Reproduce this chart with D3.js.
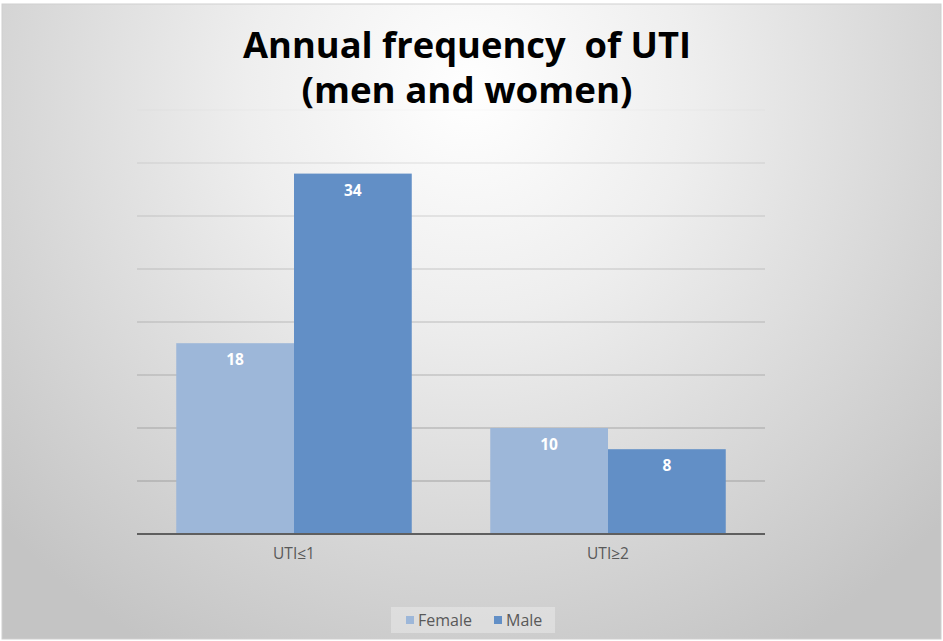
<!DOCTYPE html>
<html>
<head>
<meta charset="utf-8">
<script src="https://cdn.jsdelivr.net/npm/d3@7"></script>
<style>
  body { margin: 0; background: #fff; }
  text { font-family: "Open Sans", "DejaVu Sans", sans-serif; }
</style>
</head>
<body>
<svg width="943" height="641"></svg>
<script>
// ### Data ###
var categories = ['UTI\u22641', 'UTI\u22652'];
var seriesNames = ['Female', 'Male'];
var female = [18, 10];
var male = [34, 8];
var yTicks = [0, 5, 10, 15, 20, 25, 30, 35, 40];
var colors = ['#9db7d9', '#628fc6'];

var rows = categories.map((c, i) => ({cat: c, values: [female[i], male[i]]}));

// ### Canvas ###
var svg = d3.select('svg');
var W = 943, H = 641;
var plot = {left: 137, right: 765, top: 110, bottom: 534};

var defs = svg.append('defs');
var grad = defs.append('radialGradient')
  .attr('id', 'bg')
  .attr('gradientUnits', 'userSpaceOnUse')
  .attr('cx', 470).attr('cy', 90).attr('r', 640);
grad.append('stop').attr('offset', '0%').attr('stop-color', '#ffffff');
grad.append('stop').attr('offset', '35%').attr('stop-color', '#eeeeee');
grad.append('stop').attr('offset', '100%').attr('stop-color', '#c4c4c4');

svg.append('rect').attr('width', W).attr('height', H).attr('fill', '#fff');
svg.append('rect')
  .attr('x', 2).attr('y', 4).attr('width', W - 4).attr('height', H - 6)
  .attr('fill', 'url(#bg)')
  .attr('stroke', '#cfcfcf').attr('stroke-width', 1);

// ### Scales ###
var x0 = d3.scaleBand()
  .domain(categories)
  .range([plot.left, plot.right])
  .paddingInner(0.25)
  .paddingOuter(0.125);
var x1 = d3.scaleBand()
  .domain(seriesNames)
  .range([0, x0.bandwidth()]);
var y = d3.scaleLinear()
  .domain([0, 40])
  .range([plot.bottom, plot.top]);
// gridlines fade out toward the top, the one at 40 is barely there
var gridOpacity = d3.scaleLinear().domain([5, 35, 40]).range([0.6, 0.2, 0.05]);

// ### Gridlines ###
svg.append('g')
  .selectAll('line')
  .data(yTicks.filter(d => d > 0))
  .enter()
  .append('line')
  .attr('x1', plot.left).attr('x2', plot.right)
  .attr('y1', d => y(d)).attr('y2', d => y(d))
  .attr('stroke', '#9a9a9a')
  .attr('stroke-opacity', d => gridOpacity(d))
  .attr('stroke-width', 1.5);

// ### Bars ###
var groups = svg.append('g')
  .selectAll('g')
  .data(rows)
  .enter()
  .append('g')
  .attr('transform', d => `translate(${x0(d.cat)},0)`);

groups.selectAll('rect')
  .data(d => d.values.map((v, i) => ({name: seriesNames[i], value: v, i: i})))
  .enter()
  .append('rect')
  .attr('x', d => x1(d.name))
  .attr('y', d => y(d.value))
  .attr('width', x1.bandwidth())
  .attr('height', d => y(0) - y(d.value))
  .attr('fill', d => colors[d.i]);

groups.selectAll('text')
  .data(d => d.values.map((v, i) => ({name: seriesNames[i], value: v})))
  .enter()
  .append('text')
  .attr('x', d => x1(d.name) + x1.bandwidth() / 2)
  .attr('y', d => y(d.value) + 22)
  .attr('text-anchor', 'middle')
  .attr('fill', '#ffffff')
  .attr('font-size', 15.5)
  .attr('font-weight', 700)
  .text(d => d.value);

// ### Axis ###
var xAxis = d3.axisBottom(x0).tickSize(0).tickPadding(14);
var gx = svg.append('g')
  .attr('transform', `translate(0,${plot.bottom})`)
  .call(xAxis);
gx.select('.domain').attr('stroke', '#5f5f5f').attr('stroke-width', 2)
  .attr('d', `M${plot.left},0H${plot.right}`);
gx.selectAll('text')
  .attr('fill', '#595959')
  .attr('font-size', 15.5)
  .attr('font-family', '"Open Sans", "DejaVu Sans", sans-serif');

// ### Title ###
var title = svg.append('g').attr('text-anchor', 'middle')
  .attr('font-weight', 700).attr('fill', '#000');
title.append('text')
  .attr('x', 467).attr('y', 58)
  .attr('font-size', 36)
  .attr('textLength', 448).attr('lengthAdjust', 'spacingAndGlyphs')
  .attr('xml:space', 'preserve')
  .text('Annual frequency  of UTI');
title.append('text')
  .attr('x', 467).attr('y', 103)
  .attr('font-size', 36)
  .attr('textLength', 331).attr('lengthAdjust', 'spacingAndGlyphs')
  .text('(men and women)');

// ### Legend ###
var legend = svg.append('g');
legend.append('rect')
  .attr('x', 391).attr('y', 607).attr('width', 164).attr('height', 26)
  .attr('fill', '#ffffff').attr('fill-opacity', 0.3);
var legX = [406, 494];
seriesNames.forEach((name, i) => {
  legend.append('rect')
    .attr('x', legX[i]).attr('y', 616).attr('width', 8).attr('height', 8)
    .attr('fill', colors[i]);
  legend.append('text')
    .attr('x', legX[i] + 12).attr('y', 626)
    .attr('font-size', 16)
    .attr('fill', '#595959')
    .text(name);
});
</script>
</body>
</html>
